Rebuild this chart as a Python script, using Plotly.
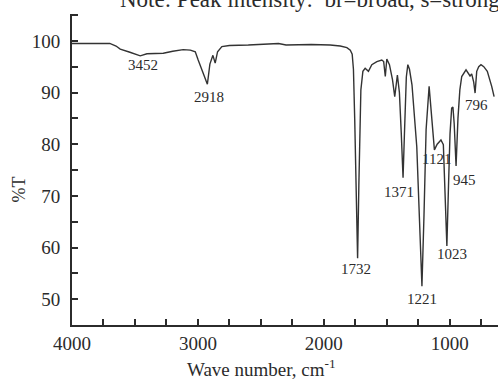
import plotly.graph_objects as go

# Spectrum (wavenumber in cm^-1, transmittance in %T)
wavenumber = [4000, 3800, 3700, 3650, 3617, 3540, 3458, 3405, 3275, 3200, 3117, 3060, 3021,
              2998, 2968, 2945, 2925, 2905, 2881, 2863, 2844, 2810, 2750, 2600, 2450, 2360,
              2300, 2100, 1950, 1870, 1817, 1790, 1775, 1765, 1755, 1745, 1732, 1722, 1716,
              1706, 1690, 1672, 1646, 1619, 1579, 1540, 1525, 1512, 1500, 1479, 1455, 1437,
              1416, 1400, 1385, 1371, 1360, 1345, 1333, 1320, 1300, 1280, 1262, 1240, 1221,
              1205, 1188, 1164, 1143, 1122, 1100, 1070, 1051, 1035, 1023, 1010, 998, 985,
              975, 965, 950, 935, 920, 905, 871, 839, 826, 810, 799, 786, 770, 752, 730,
              702, 680, 667, 648]
transmittance = [99.5, 99.5, 99.5, 99.0, 98.4, 97.8, 97.1, 97.5, 97.6, 98.0, 98.3, 98.2, 97.9,
                 96.3, 94.4, 93.0, 91.6, 95.5, 97.2, 95.7, 97.9, 98.9, 99.1, 99.2, 99.3, 99.5,
                 99.2, 99.3, 99.2, 99.0, 98.7, 98.2, 97.4, 94.5, 85.0, 70.0, 57.9, 72.0, 82.0,
                 90.5, 94.1, 94.7, 94.1, 95.4, 96.0, 96.3, 96.0, 93.1, 96.5, 95.4, 92.5, 89.2,
                 93.4, 90.0, 82.0, 73.5, 82.0, 93.0, 95.4, 94.5, 91.5, 86.0, 79.5, 65.0, 52.5,
                 66.0, 82.8, 91.2, 85.3, 78.9, 80.0, 80.8, 79.9, 70.0, 60.3, 72.0, 82.0, 87.0,
                 87.2, 84.0, 75.8, 85.0, 90.5, 93.1, 94.4, 93.2, 93.6, 92.0, 89.9, 94.1, 95.0,
                 95.4, 95.0, 94.1, 92.5, 91.2, 89.2]

# Peak labels
peak_labels = ["3452", "2918", "1732", "1371", "1221", "1121", "1023", "945", "796"]
label_x = [3440, 2916, 1744, 1402, 1222, 1103, 984, 886, 791]
label_y = [95.3, 89.2, 55.9, 70.8, 50.1, 77.1, 58.7, 73.1, 87.6]

x_ticks = [4000, 3000, 2000, 1000]
y_ticks = [50, 60, 70, 80, 90, 100]

FONT = "Liberation Serif"
INK = "#2b2b2b"

fig = go.Figure()
fig.add_trace(go.Scatter(x=wavenumber, y=transmittance, mode="lines",
                         line=dict(color="#333333", width=1.4), hoverinfo="skip",
                         showlegend=False))

for t, xv, yv in zip(peak_labels, label_x, label_y):
    fig.add_annotation(x=xv, y=yv, text=t, showarrow=False,
                       font=dict(family=FONT, size=15, color=INK),
                       xanchor="center", yanchor="middle")

fig.add_annotation(xref="paper", yref="paper", x=0.108, y=1.0, xanchor="left", yanchor="bottom",
                   text="Note: Peak intensity:  br=broad, s=strong, m=medium, w=weak",
                   showarrow=False, font=dict(family=FONT, size=23, color=INK))
fig.add_annotation(xref="paper", yref="paper", x=0.444, y=-0.139, xanchor="center", yanchor="middle",
                   text="Wave number, cm<sup>-1</sup>", showarrow=False,
                   font=dict(family=FONT, size=19, color=INK))
fig.add_annotation(xref="paper", yref="paper", x=-0.125, y=0.435, xanchor="center", yanchor="middle",
                   text="%T", textangle=-90, showarrow=False,
                   font=dict(family=FONT, size=18, color=INK))

fig.update_layout(
    width=498, height=379,
    margin=dict(l=72, r=0, t=14, b=54),
    paper_bgcolor="white", plot_bgcolor="white",
    font=dict(family=FONT, size=18, color=INK),
    xaxis=dict(range=[4000, 617], tickvals=x_ticks, ticks="inside", ticklen=6,
               tickwidth=1.5, tickcolor=INK, showline=True, linecolor=INK, linewidth=2,
               showgrid=False, zeroline=False,
               minor=dict(dtick=250, tick0=0, ticks="inside", ticklen=6, tickwidth=1.5,
                          tickcolor=INK, showgrid=False),
               tickfont=dict(family=FONT, size=19, color=INK)),
    yaxis=dict(range=[45, 105.2], tickvals=y_ticks, ticks="inside", ticklen=6,
               tickwidth=1.5, tickcolor=INK, showline=True, linecolor=INK, linewidth=2,
               showgrid=False, zeroline=False, ticklabelstandoff=6,
               minor=dict(dtick=5, tick0=0, ticks="inside", ticklen=6, tickwidth=1.5,
                          tickcolor=INK, showgrid=False),
               tickfont=dict(family=FONT, size=19, color=INK)),
)

fig.write_html("out.html")
